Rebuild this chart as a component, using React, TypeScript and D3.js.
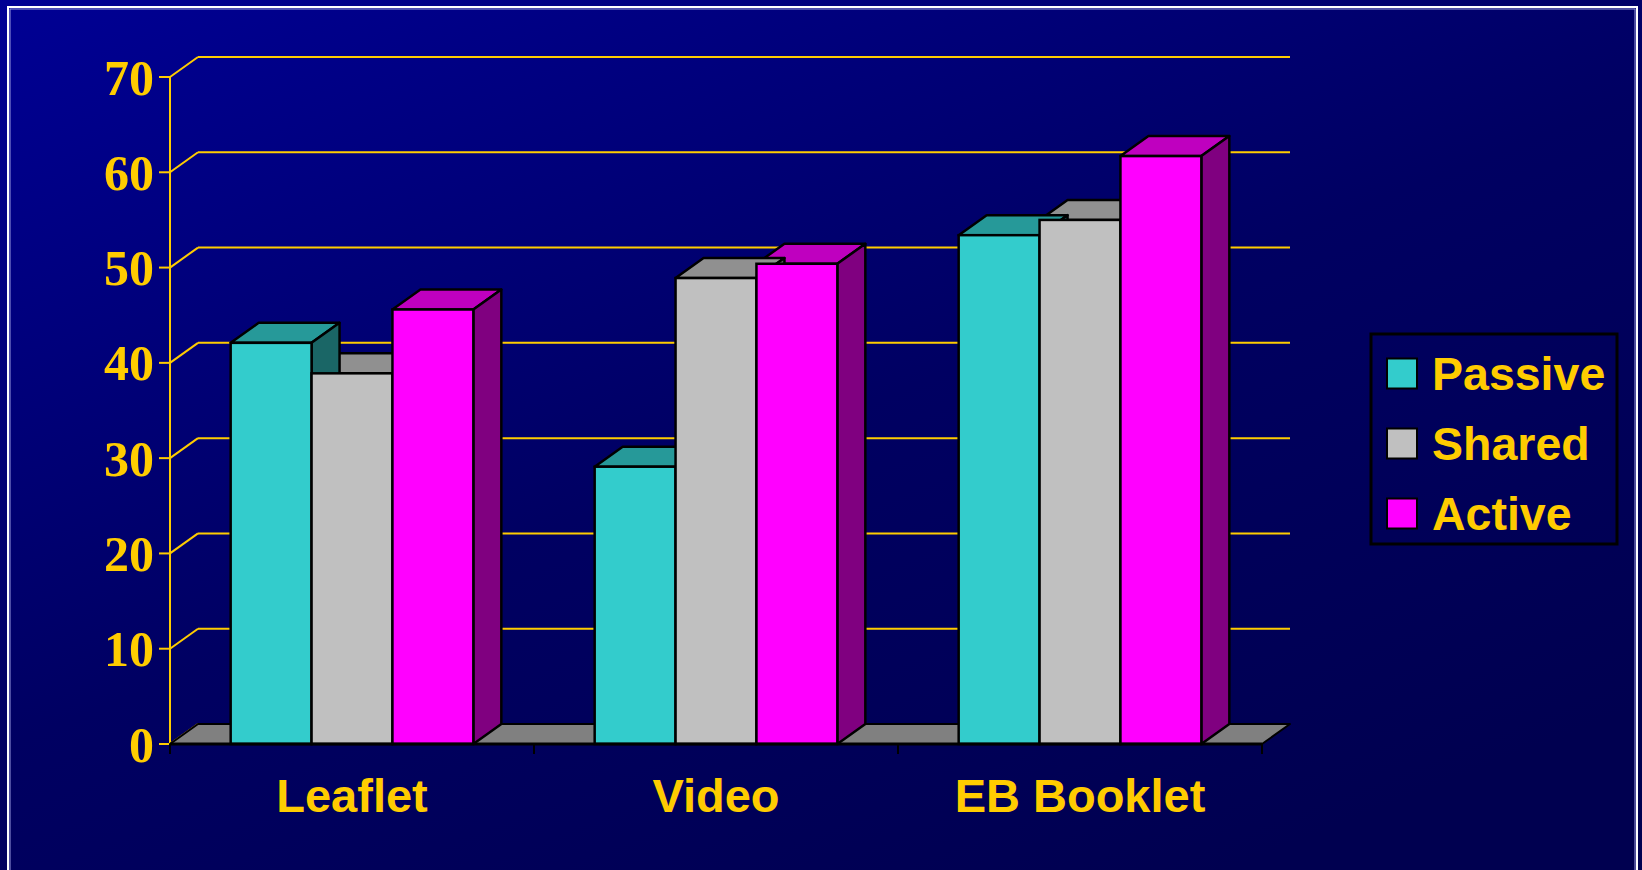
import React from "react";
import * as d3 from "d3";

const categories = ["Leaflet", "Video", "EB Booklet"];
const seriesNames = ["Passive", "Shared", "Active"];
const passive = [42.1, 29.1, 53.4];
const shared = [38.9, 48.9, 55.0];
const active = [45.6, 50.4, 61.7];
const yTicks = [0, 10, 20, 30, 40, 50, 60, 70];

const seriesValues = [passive, shared, active];
const faceColors = [
  { front: "#33CCCC", top: "#269999", side: "#1A6666" },
  { front: "#C0C0C0", top: "#909090", side: "#606060" },
  { front: "#FF00FF", top: "#BF00BF", side: "#800080" },
];

const W = 1642;
const H = 870;
const YEL = "#FFCC00";
const DX = 28;
const DY = -20;

export default function App() {
  const x = d3.scaleBand<string>().domain(categories).range([170, 1262]).paddingInner(0).paddingOuter(0);
  const xs = d3.scaleBand<string>().domain(seriesNames).range([0, x.bandwidth()]).paddingInner(0).paddingOuter(0.75);
  const y = d3.scaleLinear().domain([0, 70]).range([744, 77]);
  const y0 = y(0);
  const bw = xs.bandwidth();

  type Bar = { x0: number; x1: number; yt: number; s: number };
  const bars: Bar[] = [];
  categories.forEach((c, ci) => {
    seriesNames.forEach((s, si) => {
      const x0 = (x(c) as number) + (xs(s) as number);
      bars.push({ x0, x1: x0 + bw, yt: y(seriesValues[si][ci]), s: si });
    });
  });
  const backOrder = [...bars].reverse();

  const [xl, xr] = x.range();

  return (
    <svg width={W} height={H} style={{ position: "fixed", left: 0, top: 0, display: "block" }}>
      <defs>
        <linearGradient id="bg" x1="0" y1="0" x2="0.75" y2="1">
          <stop offset="0" stopColor="#000094" />
          <stop offset="0.55" stopColor="#000062" />
          <stop offset="1" stopColor="#000050" />
        </linearGradient>
      </defs>
      <rect x={0} y={0} width={W} height={H} fill="url(#bg)" />
      <rect x={8} y={7} width={1629} height={H + 20} fill="none" stroke="#FFFFFF" strokeWidth={2} />
      <rect x={10} y={9} width={1625} height={H + 20} fill="none" stroke="#9999DD" strokeWidth={1} />

      {/* gridlines */}
      {yTicks.map((t) => (
        <g key={t} stroke={YEL} strokeWidth={2} fill="none">
          <line x1={159} y1={y(t)} x2={xl} y2={y(t)} />
          <line x1={xl} y1={y(t)} x2={xl + DX} y2={y(t) + DY} />
          <line x1={xl + DX} y1={y(t) + DY} x2={xr + DX} y2={y(t) + DY} />
        </g>
      ))}
      <line x1={xl} y1={y(70)} x2={xl} y2={y0} stroke={YEL} strokeWidth={2} />

      {/* floor */}
      <polygon
        points={`${xl},${y0} ${xr},${y0} ${xr + DX},${y0 + DY} ${xl + DX},${y0 + DY}`}
        fill="#808080"
        stroke="#000"
        strokeWidth={2}
        strokeLinejoin="round"
      />

      {/* bars: tops & sides right-to-left, then fronts */}
      {backOrder.map((b, i) => (
        <g key={"ts" + i} stroke="#000" strokeWidth={2.5} strokeLinejoin="round">
          <polygon
            points={`${b.x0},${b.yt} ${b.x1},${b.yt} ${b.x1 + DX},${b.yt + DY} ${b.x0 + DX},${b.yt + DY}`}
            fill={faceColors[b.s].top}
          />
          <polygon
            points={`${b.x1},${b.yt} ${b.x1 + DX},${b.yt + DY} ${b.x1 + DX},${y0 + DY} ${b.x1},${y0}`}
            fill={faceColors[b.s].side}
          />
        </g>
      ))}
      {bars.map((b, i) => (
        <rect
          key={"f" + i}
          x={b.x0}
          y={b.yt}
          width={b.x1 - b.x0}
          height={y0 - b.yt}
          fill={faceColors[b.s].front}
          stroke="#000"
          strokeWidth={2.5}
        />
      ))}

      {/* x axis */}
      <line x1={xl} y1={y0} x2={xr} y2={y0} stroke="#000" strokeWidth={3} />
      {[...categories.map((c) => x(c) as number), xr].map((t, i) => (
        <line key={"xt" + i} x1={t} y1={y0} x2={t} y2={y0 + 10} stroke="#000" strokeWidth={2} />
      ))}

      {/* y tick labels */}
      {yTicks.map((t) => (
        <text
          key={"yl" + t}
          x={154}
          y={y(t) + 17.5}
          textAnchor="end"
          fill={YEL}
          fontFamily="'Liberation Serif', 'Times New Roman', serif"
          fontWeight="bold"
          fontSize={50}
        >
          {t}
        </text>
      ))}

      {/* category labels */}
      {categories.map((c) => (
        <text
          key={"cl" + c}
          x={(x(c) as number) + x.bandwidth() / 2}
          y={812}
          textAnchor="middle"
          fill={YEL}
          fontFamily="'Liberation Sans', Arial, sans-serif"
          fontWeight="bold"
          fontSize={47}
        >
          {c}
        </text>
      ))}

      {/* legend */}
      <rect x={1371} y={334} width={246} height={210} fill="none" stroke="#000" strokeWidth={3} />
      {seriesNames.map((s, i) => {
        const cy = 373.5 + i * 70;
        return (
          <g key={"lg" + s}>
            <rect x={1387} y={cy - 15} width={30} height={30} fill={faceColors[i].front} stroke="#000" strokeWidth={2} />
            <text
              x={1432}
              y={cy + 16.5}
              fill={YEL}
              fontFamily="'Liberation Sans', Arial, sans-serif"
              fontWeight="bold"
              fontSize={46.5}
            >
              {s}
            </text>
          </g>
        );
      })}
    </svg>
  );
}
